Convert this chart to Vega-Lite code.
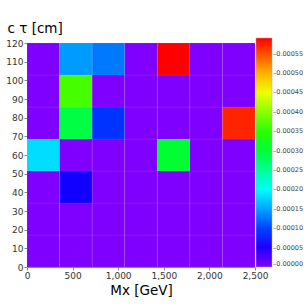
{
  "$schema": "https://vega.github.io/schema/vega-lite/v6.json",
  "width": 228,
  "height": 224,
  "autosize": {"type": "none"},
  "padding": {"left": 27, "top": 43, "right": 53, "bottom": 41},
  "background": "white",
  "config": {"view": {"stroke": null}, "font": "DejaVu Sans"},
  "data": {"values": [
    {"mx0": 0, "mx1": 357.14, "ct0": 0, "ct1": 17.14, "value": 0},
    {"mx0": 357.14, "mx1": 714.29, "ct0": 0, "ct1": 17.14, "value": 0},
    {"mx0": 714.29, "mx1": 1071.43, "ct0": 0, "ct1": 17.14, "value": 0},
    {"mx0": 1071.43, "mx1": 1428.57, "ct0": 0, "ct1": 17.14, "value": 0},
    {"mx0": 1428.57, "mx1": 1785.71, "ct0": 0, "ct1": 17.14, "value": 0},
    {"mx0": 1785.71, "mx1": 2142.86, "ct0": 0, "ct1": 17.14, "value": 0},
    {"mx0": 2142.86, "mx1": 2500, "ct0": 0, "ct1": 17.14, "value": 0},
    {"mx0": 0, "mx1": 357.14, "ct0": 17.14, "ct1": 34.29, "value": 0},
    {"mx0": 357.14, "mx1": 714.29, "ct0": 17.14, "ct1": 34.29, "value": 0},
    {"mx0": 714.29, "mx1": 1071.43, "ct0": 17.14, "ct1": 34.29, "value": 0},
    {"mx0": 1071.43, "mx1": 1428.57, "ct0": 17.14, "ct1": 34.29, "value": 0},
    {"mx0": 1428.57, "mx1": 1785.71, "ct0": 17.14, "ct1": 34.29, "value": 0},
    {"mx0": 1785.71, "mx1": 2142.86, "ct0": 17.14, "ct1": 34.29, "value": 0},
    {"mx0": 2142.86, "mx1": 2500, "ct0": 17.14, "ct1": 34.29, "value": 0},
    {"mx0": 0, "mx1": 357.14, "ct0": 34.29, "ct1": 51.43, "value": 0},
    {"mx0": 357.14, "mx1": 714.29, "ct0": 34.29, "ct1": 51.43, "value": 0.000057},
    {"mx0": 714.29, "mx1": 1071.43, "ct0": 34.29, "ct1": 51.43, "value": 0},
    {"mx0": 1071.43, "mx1": 1428.57, "ct0": 34.29, "ct1": 51.43, "value": 0},
    {"mx0": 1428.57, "mx1": 1785.71, "ct0": 34.29, "ct1": 51.43, "value": 0},
    {"mx0": 1785.71, "mx1": 2142.86, "ct0": 34.29, "ct1": 51.43, "value": 0},
    {"mx0": 2142.86, "mx1": 2500, "ct0": 34.29, "ct1": 51.43, "value": 0},
    {"mx0": 0, "mx1": 357.14, "ct0": 51.43, "ct1": 68.57, "value": 0.000179},
    {"mx0": 357.14, "mx1": 714.29, "ct0": 51.43, "ct1": 68.57, "value": 0},
    {"mx0": 714.29, "mx1": 1071.43, "ct0": 51.43, "ct1": 68.57, "value": 0},
    {"mx0": 1071.43, "mx1": 1428.57, "ct0": 51.43, "ct1": 68.57, "value": 0},
    {"mx0": 1428.57, "mx1": 1785.71, "ct0": 51.43, "ct1": 68.57, "value": 0.000302},
    {"mx0": 1785.71, "mx1": 2142.86, "ct0": 51.43, "ct1": 68.57, "value": 0},
    {"mx0": 2142.86, "mx1": 2500, "ct0": 51.43, "ct1": 68.57, "value": 0},
    {"mx0": 0, "mx1": 357.14, "ct0": 68.57, "ct1": 85.71, "value": 0},
    {"mx0": 357.14, "mx1": 714.29, "ct0": 68.57, "ct1": 85.71, "value": 0.000293},
    {"mx0": 714.29, "mx1": 1071.43, "ct0": 68.57, "ct1": 85.71, "value": 0.000092},
    {"mx0": 1071.43, "mx1": 1428.57, "ct0": 68.57, "ct1": 85.71, "value": 0},
    {"mx0": 1428.57, "mx1": 1785.71, "ct0": 68.57, "ct1": 85.71, "value": 0},
    {"mx0": 1785.71, "mx1": 2142.86, "ct0": 68.57, "ct1": 85.71, "value": 0},
    {"mx0": 2142.86, "mx1": 2500, "ct0": 68.57, "ct1": 85.71, "value": 0.000572},
    {"mx0": 0, "mx1": 357.14, "ct0": 85.71, "ct1": 102.86, "value": 0},
    {"mx0": 357.14, "mx1": 714.29, "ct0": 85.71, "ct1": 102.86, "value": 0.000363},
    {"mx0": 714.29, "mx1": 1071.43, "ct0": 85.71, "ct1": 102.86, "value": 0},
    {"mx0": 1071.43, "mx1": 1428.57, "ct0": 85.71, "ct1": 102.86, "value": 0},
    {"mx0": 1428.57, "mx1": 1785.71, "ct0": 85.71, "ct1": 102.86, "value": 0},
    {"mx0": 1785.71, "mx1": 2142.86, "ct0": 85.71, "ct1": 102.86, "value": 0},
    {"mx0": 2142.86, "mx1": 2500, "ct0": 85.71, "ct1": 102.86, "value": 0},
    {"mx0": 0, "mx1": 357.14, "ct0": 102.86, "ct1": 120, "value": 0},
    {"mx0": 357.14, "mx1": 714.29, "ct0": 102.86, "ct1": 120, "value": 0.000145},
    {"mx0": 714.29, "mx1": 1071.43, "ct0": 102.86, "ct1": 120, "value": 0.000128},
    {"mx0": 1071.43, "mx1": 1428.57, "ct0": 102.86, "ct1": 120, "value": 0},
    {"mx0": 1428.57, "mx1": 1785.71, "ct0": 102.86, "ct1": 120, "value": 0.00059},
    {"mx0": 1785.71, "mx1": 2142.86, "ct0": 102.86, "ct1": 120, "value": 0},
    {"mx0": 2142.86, "mx1": 2500, "ct0": 102.86, "ct1": 120, "value": 0}
  ]},
  "mark": {"type": "rect", "stroke": "#ffffff", "strokeOpacity": 0.12, "strokeWidth": 0.6},
  "encoding": {
    "x": {
      "field": "mx0", "type": "quantitative",
      "scale": {"domain": [0, 2500], "nice": false},
      "axis": {
        "values": [0, 500, 1000, 1500, 2000, 2500],
        "title": "Mx [GeV]", "titleFontSize": 13.5, "titleFontWeight": "normal", "titleColor": "#000",
        "labelFontSize": 9, "labelColor": "#333", "tickSize": 3, "grid": false,
        "labelPadding": 1, "titlePadding": 3, "labelFlush": false
      }
    },
    "x2": {"field": "mx1"},
    "y": {
      "field": "ct0", "type": "quantitative",
      "scale": {"domain": [0, 120], "nice": false},
      "axis": {
        "values": [0, 10, 20, 30, 40, 50, 60, 70, 80, 90, 100, 110, 120],
        "title": "c τ [cm]", "titleAngle": 0, "titleAlign": "left", "titleBaseline": "alphabetic",
        "titleX": -20, "titleY": -11, "titleFontSize": 13.5, "titleFontWeight": "normal", "titleColor": "#000",
        "labelFontSize": 9, "labelColor": "#333", "tickSize": 3, "grid": false,
        "labelPadding": 1, "labelFlush": false
      }
    },
    "y2": {"field": "ct1"},
    "color": {
      "field": "value", "type": "quantitative",
      "scale": {"domain": [0, 0.00059], "range": ["hsl(270,100%,50%)", "hsl(0,100%,50%)"], "interpolate": "hsl-long"},
      "legend": {
        "orient": "none", "legendX": 229, "legendY": -5, "title": null, "direction": "vertical",
        "gradientLength": 229, "gradientThickness": 16,
        "values": [0, 0.00005, 0.0001, 0.00015, 0.0002, 0.00025, 0.0003, 0.00035, 0.0004, 0.00045, 0.0005, 0.00055],
        "labelExpr": "'–' + format(datum.value, '.5f')",
        "labelFontSize": 6.5, "labelColor": "#444", "labelOffset": 1, "labelBaseline": "middle",
        "gradientStrokeColor": "#aaa", "gradientStrokeWidth": 0.5, "padding": 0
      }
    }
  }
}
